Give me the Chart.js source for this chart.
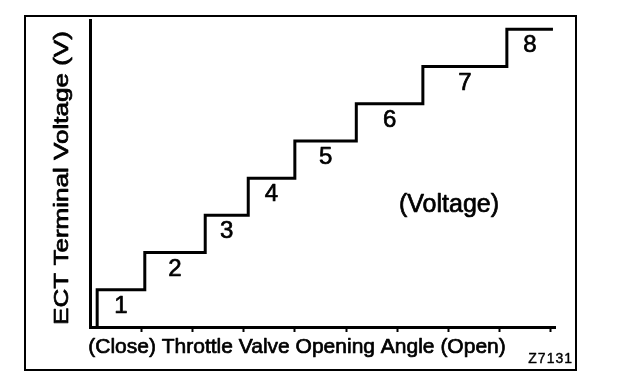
<!DOCTYPE html>
<html>
<head>
<meta charset="utf-8">
<script src="https://cdn.jsdelivr.net/npm/chart.js@4.4.1/dist/chart.umd.min.js"></script>
<style>
  html, body { margin: 0; padding: 0; background: #fff; }
  #c { display: block; }
</style>
</head>
<body>
<canvas id="c" width="624" height="392"></canvas>
<script>
// throttle angle (axis units) where each voltage step starts
const riseX = [0.14, 1.07, 2.25, 3.09, 4.0, 5.2, 6.5, 8.14];
const endX = 9.04;
// voltage level of each step
const levels = [1, 2, 3, 4, 5, 6, 7, 8];
const stepLabels = ['1', '2', '3', '4', '5', '6', '7', '8'];

const xTitle = '(Close) Throttle Valve Opening Angle (Open)';
const yTitle = 'ECT Terminal Voltage (V)';
const noteText = '(Voltage)';
const figCode = 'Z7131';

const FONT = '"Liberation Sans", Arial, Helvetica, sans-serif';

// build the stepped line: rise at riseX[i], hold until the next rise
const points = [{ x: riseX[0], y: 0 }];
levels.forEach((lv, i) => {
  points.push({ x: i + 1 < riseX.length ? riseX[i + 1] : endX, y: lv });
});

// scanned print looks heavier than plain Arial, so fill + thin stroke
function inkText(ctx, txt, x, y) {
  ctx.fillText(txt, x, y);
  ctx.strokeText(txt, x, y);
}

const textPlugin = {
  id: 'diagramText',
  afterDraw(chart) {
    const ctx = chart.ctx;
    const xs = chart.scales.x;
    const ys = chart.scales.y;
    ctx.save();

    // outer frame
    ctx.strokeStyle = '#000';
    ctx.lineWidth = 2;
    ctx.strokeRect(25, 16, 551, 354);

    ctx.fillStyle = '#000';
    ctx.lineWidth = 0.7;
    ctx.lineJoin = 'round';

    // step numbers, centred on each tread
    ctx.font = '24px ' + FONT;
    ctx.textAlign = 'center';
    ctx.textBaseline = 'middle';
    stepLabels.forEach((lab, i) => {
      const x0 = riseX[i];
      const x1 = i + 1 < riseX.length ? riseX[i + 1] : endX;
      inkText(ctx, lab, xs.getPixelForValue((x0 + x1) / 2), ys.getPixelForValue(levels[i] - 0.44));
    });

    // note
    ctx.font = '25px ' + FONT;
    ctx.textBaseline = 'alphabetic';
    inkText(ctx, noteText, 449, 212);

    // x title
    ctx.font = '21px ' + FONT;
    inkText(ctx, xTitle, 297, 353);

    // y title, rotated and a little stretched like the scan
    ctx.save();
    ctx.translate(68, 178);
    ctx.rotate(-Math.PI / 2);
    ctx.scale(1.24, 1);
    ctx.font = '21px ' + FONT;
    inkText(ctx, yTitle, 0, 0);
    ctx.restore();

    // figure code
    ctx.font = '14px ' + FONT;
    ctx.textAlign = 'right';
    ctx.letterSpacing = '1px';
    ctx.lineWidth = 0.4;
    inkText(ctx, figCode, 573, 363);

    ctx.restore();
  }
};

new Chart(document.getElementById('c'), {
  type: 'line',
  data: {
    datasets: [{
      data: points,
      stepped: 'after',
      borderColor: '#000',
      borderWidth: 3,
      pointRadius: 0,
      fill: false
    }]
  },
  options: {
    responsive: false,
    animation: false,
    events: [],
    layout: { padding: { left: 90, right: 69, top: 20, bottom: 65 } },
    plugins: { legend: { display: false }, tooltip: { enabled: false } },
    scales: {
      x: {
        type: 'linear',
        min: 0,
        max: 9.08,
        afterFit: s => { s.height = 0; },
        ticks: { display: false, stepSize: 1, includeBounds: false },
        grid: {
          drawOnChartArea: false,
          drawTicks: true,
          tickLength: 5,
          tickWidth: 2,
          tickColor: c => (c.tick && c.tick.value === 0 ? 'rgba(0,0,0,0)' : '#000')
        },
        border: { color: '#000', width: 3 }
      },
      y: {
        type: 'linear',
        min: 0,
        max: 8.25,
        afterFit: s => { s.width = 0; },
        ticks: { display: false },
        grid: { display: false },
        border: { color: '#000', width: 3 }
      }
    }
  },
  plugins: [textPlugin]
});
</script>
</body>
</html>
